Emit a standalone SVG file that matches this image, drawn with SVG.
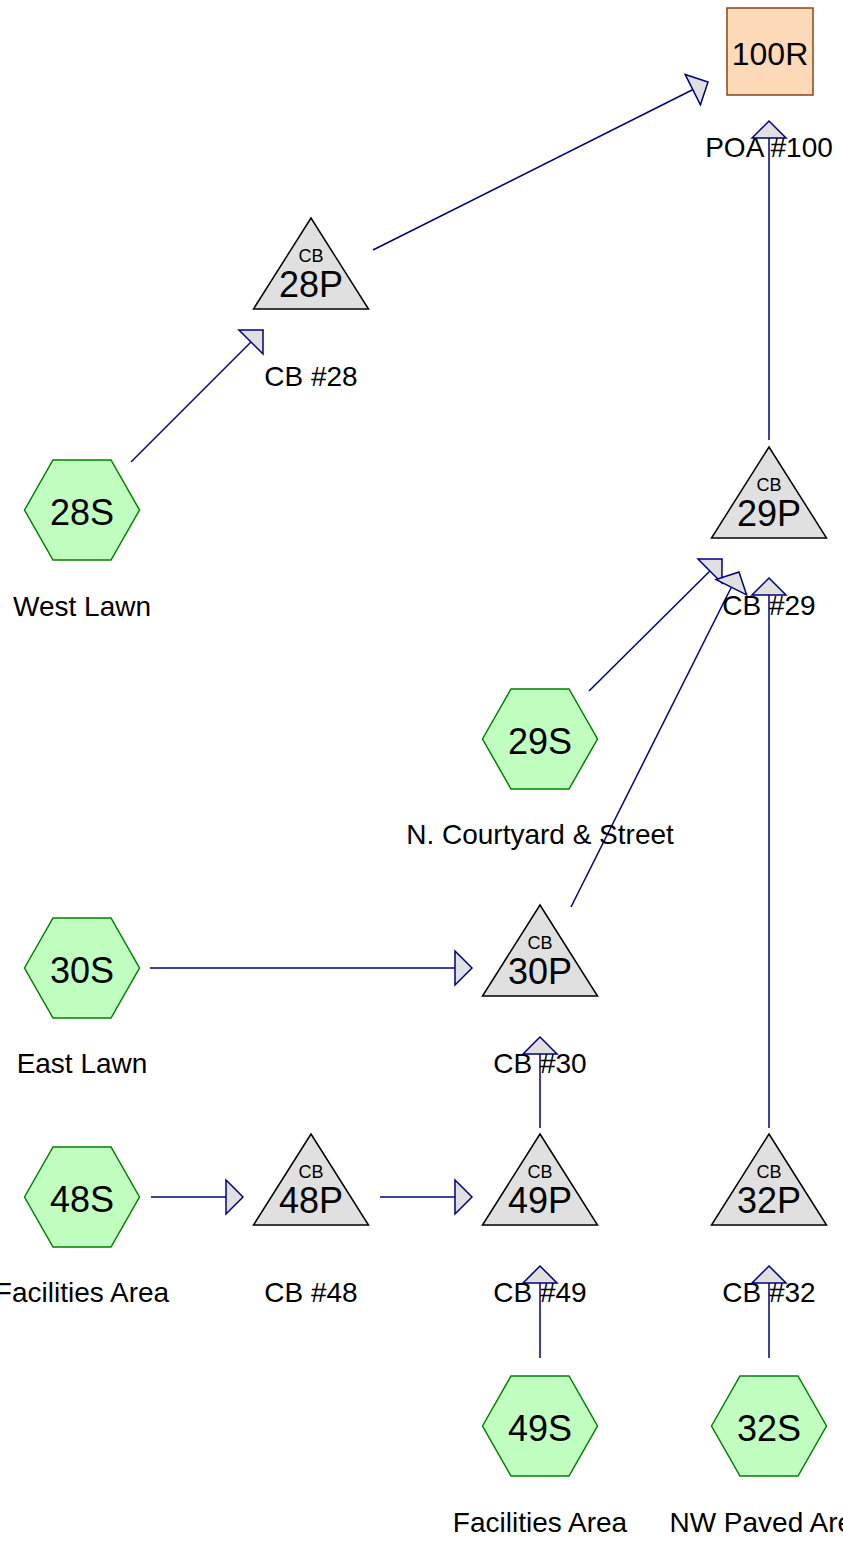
<svg xmlns="http://www.w3.org/2000/svg" width="843" height="1553" viewBox="0 0 843 1553">
<defs>
<style>
text{font-family:"Liberation Sans",Arial,sans-serif;fill:#000;text-anchor:middle}
.lbl{font-size:28px}
.nm{font-size:36px}
.cb{font-size:18px}
.hex{fill:#C0FFC0;stroke:#008000;stroke-width:1.5}
.tri{fill:#E0E0E0;stroke:#000;stroke-width:1.5}
.res{fill:#FFDAB9;stroke:#8B4513;stroke-width:1.5}
.ln{stroke:#000080;stroke-width:1.5;fill:none;marker-end:url(#ah)}
</style>
<marker id="ah" markerUnits="userSpaceOnUse" markerWidth="40" markerHeight="40" refX="0" refY="0" orient="auto" overflow="visible">
<path d="M-17,-17 L0,0 L-17,17 Z" fill="#E0E0E0" stroke="#000080" stroke-width="1.5"/>
</marker>
<polygon id="hexshape" points="-57.5,0 -29,-50 29,-50 57.5,0 29,50 -29,50"/>
<polygon id="trishape" points="0,-63 57.5,28 -57.5,28"/>
</defs>
<g id="connectors">
<line class="ln" x1="131" y1="462" x2="263" y2="330"/>
<line class="ln" x1="373" y1="250" x2="708" y2="82"/>
<line class="ln" x1="769" y1="440" x2="769" y2="121"/>
<line class="ln" x1="589" y1="691" x2="722" y2="559"/>
<line class="ln" x1="571" y1="907" x2="739" y2="572"/>
<line class="ln" x1="769" y1="1128" x2="769" y2="578"/>
<line class="ln" x1="150" y1="968" x2="472" y2="968"/>
<line class="ln" x1="540" y1="1128" x2="540" y2="1037"/>
<line class="ln" x1="151" y1="1197" x2="243" y2="1197"/>
<line class="ln" x1="380" y1="1197" x2="472" y2="1197"/>
<line class="ln" x1="540" y1="1358" x2="540" y2="1266"/>
<line class="ln" x1="769" y1="1358" x2="769" y2="1266"/>
</g>
<g id="n100R">
<rect class="res" x="727" y="8" width="86" height="87"/>
<text class="nm" x="770" y="65" style="font-size:32px">100R</text>
<text class="lbl" x="769" y="157">POA #100</text>
</g>
<g id="n28P" transform="translate(311,281)">
<use href="#trishape" class="tri"/>
<text class="cb" y="-19">CB</text>
<text class="nm" y="16">28P</text>
<text class="lbl" y="105">CB #28</text>
</g>
<g id="n28S" transform="translate(82,510)">
<use href="#hexshape" class="hex"/>
<text class="nm" y="15">28S</text>
<text class="lbl" y="106">West Lawn</text>
</g>
<g id="n29P" transform="translate(769,510)">
<use href="#trishape" class="tri"/>
<text class="cb" y="-19">CB</text>
<text class="nm" y="16">29P</text>
<text class="lbl" y="105">CB #29</text>
</g>
<g id="n29S" transform="translate(540,739)">
<use href="#hexshape" class="hex"/>
<text class="nm" y="15">29S</text>
<text class="lbl" y="105">N. Courtyard &amp; Street</text>
</g>
<g id="n30S" transform="translate(82,968)">
<use href="#hexshape" class="hex"/>
<text class="nm" y="15">30S</text>
<text class="lbl" y="105">East Lawn</text>
</g>
<g id="n30P" transform="translate(540,968)">
<use href="#trishape" class="tri"/>
<text class="cb" y="-19">CB</text>
<text class="nm" y="16">30P</text>
<text class="lbl" y="105">CB #30</text>
</g>
<g id="n48S" transform="translate(82,1197)">
<use href="#hexshape" class="hex"/>
<text class="nm" y="15">48S</text>
<text class="lbl" y="105">Facilities Area</text>
</g>
<g id="n48P" transform="translate(311,1197)">
<use href="#trishape" class="tri"/>
<text class="cb" y="-19">CB</text>
<text class="nm" y="16">48P</text>
<text class="lbl" y="105">CB #48</text>
</g>
<g id="n49P" transform="translate(540,1197)">
<use href="#trishape" class="tri"/>
<text class="cb" y="-19">CB</text>
<text class="nm" y="16">49P</text>
<text class="lbl" y="105">CB #49</text>
</g>
<g id="n32P" transform="translate(769,1197)">
<use href="#trishape" class="tri"/>
<text class="cb" y="-19">CB</text>
<text class="nm" y="16">32P</text>
<text class="lbl" y="105">CB #32</text>
</g>
<g id="n49S" transform="translate(540,1426)">
<use href="#hexshape" class="hex"/>
<text class="nm" y="15">49S</text>
<text class="lbl" y="106">Facilities Area</text>
</g>
<g id="n32S" transform="translate(769,1426)">
<use href="#hexshape" class="hex"/>
<text class="nm" y="15">32S</text>
<text class="lbl" y="106">NW Paved Area</text>
</g>
</svg>
